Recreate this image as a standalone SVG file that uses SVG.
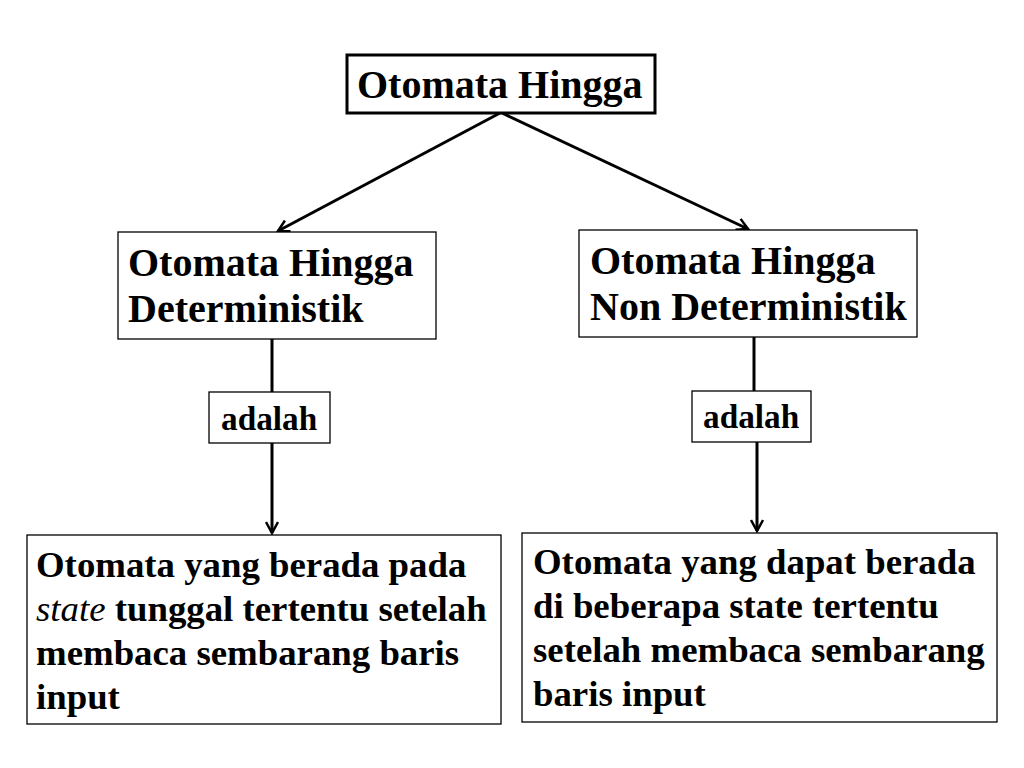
<svg xmlns="http://www.w3.org/2000/svg" width="1024" height="768" viewBox="0 0 1024 768">
<defs>
<marker id="arr" viewBox="0 0 14 14" refX="12" refY="7" markerWidth="14" markerHeight="14" markerUnits="userSpaceOnUse" orient="auto">
<path d="M1,1 L12,7 L1,13" fill="none" stroke="#000" stroke-width="2.5"/>
</marker>
<style>
.box{fill:#fff;stroke:#000;stroke-width:1.3}
.boxb{fill:#fff;stroke:#000;stroke-width:3}
.t{font-family:"Liberation Serif","Times New Roman",serif;font-weight:bold;fill:#000}
.t40{font-size:40px}
.t36{font-size:36.8px}
.t32{font-size:33.3px}
.c{stroke:#000;stroke-width:3;fill:none}
</style>
</defs>
<rect width="1024" height="768" fill="#fff"/>
<g id="connectors">
<line class="c" x1="500" y1="113" x2="278" y2="231" marker-end="url(#arr)"/>
<line class="c" x1="502" y1="113" x2="748" y2="229" marker-end="url(#arr)"/>
<line class="c" x1="272" y1="339" x2="272" y2="392"/>
<line class="c" x1="272" y1="443" x2="272" y2="533" marker-end="url(#arr)"/>
<line class="c" x1="754" y1="337" x2="754" y2="391"/>
<line class="c" x1="757" y1="442" x2="757" y2="531" marker-end="url(#arr)"/>
</g>
<g id="root">
<rect class="boxb" x="347" y="55" width="308" height="58"/>
<text class="t t40" x="357" y="98">Otomata Hingga</text>
</g>
<g id="dfa">
<rect class="box" x="118" y="232" width="318" height="107"/>
<text class="t t40" x="128" y="276">Otomata Hingga</text>
<text class="t t40" x="128" y="322">Deterministik</text>
</g>
<g id="nfa">
<rect class="box" x="579" y="230" width="338" height="107"/>
<text class="t t40" x="590" y="274">Otomata Hingga</text>
<text class="t t40" x="590" y="320">Non Deterministik</text>
</g>
<g id="adalah1">
<rect class="box" x="209" y="392" width="121" height="51"/>
<text class="t t32" x="221" y="430">adalah</text>
</g>
<g id="adalah2">
<rect class="box" x="692" y="391" width="119" height="51"/>
<text class="t t32" x="703" y="428">adalah</text>
</g>
<g id="dfa-def">
<rect class="box" x="27" y="535" width="474" height="189"/>
<text class="t t36" x="36" y="577">Otomata yang berada pada</text>
<text class="t t36" x="36" y="621"><tspan font-style="italic" font-weight="normal">state</tspan> tunggal tertentu setelah</text>
<text class="t t36" x="36" y="665">membaca sembarang baris</text>
<text class="t t36" x="36" y="709">input</text>
</g>
<g id="nfa-def">
<rect class="box" x="522" y="533" width="475" height="189"/>
<text class="t t36" x="533" y="574">Otomata yang dapat berada</text>
<text class="t t36" x="533" y="618">di beberapa state tertentu</text>
<text class="t t36" x="533" y="662">setelah membaca sembarang</text>
<text class="t t36" x="533" y="706">baris input</text>
</g>
</svg>
